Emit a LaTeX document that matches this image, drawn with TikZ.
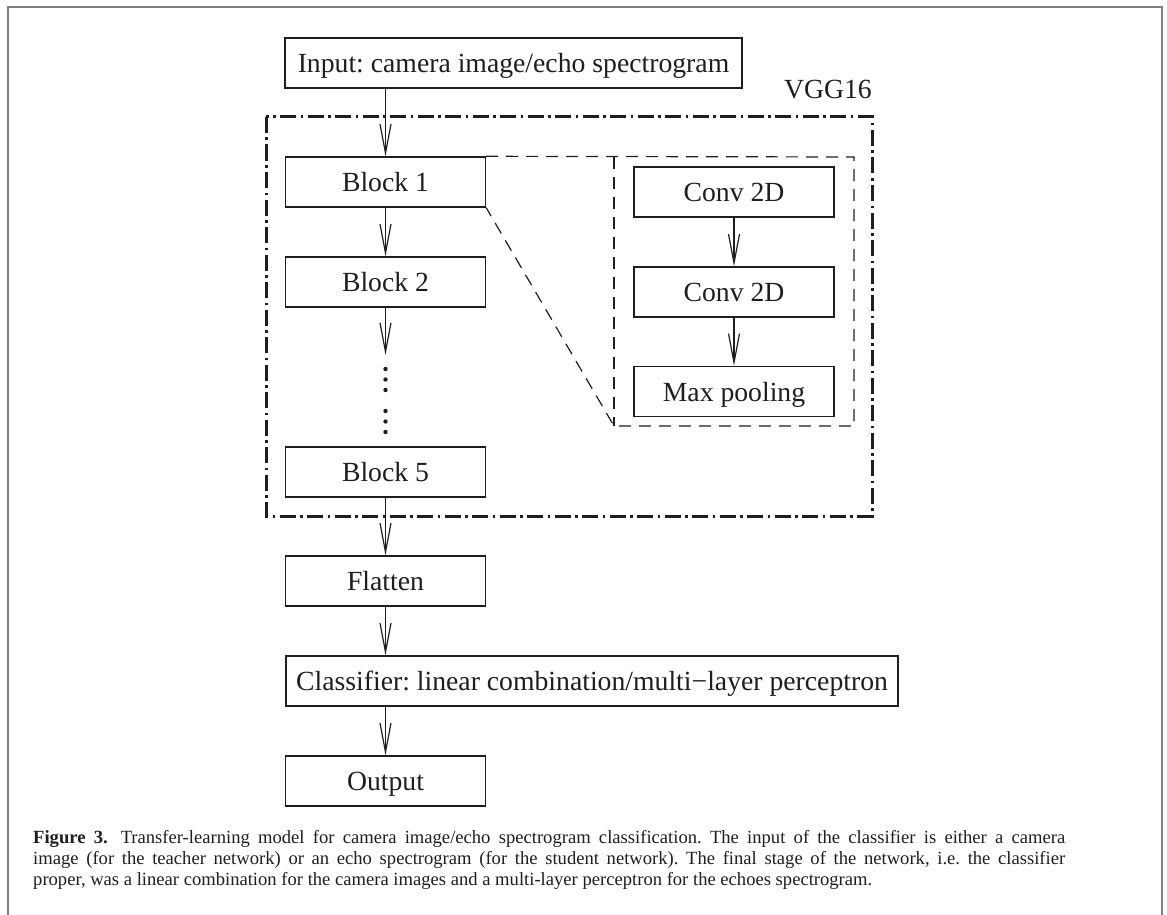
\documentclass[tikz,border=0pt]{standalone}
\usepackage{fontspec}
\setmainfont{Liberation Serif}
\usetikzlibrary{arrows.meta}
\definecolor{framegray}{RGB}{128,128,128}
\definecolor{ink}{RGB}{30,30,30}
\frenchspacing
\begin{document}
\begin{tikzpicture}[x=1pt,y=-1pt,
  box/.style={draw=ink, line width=1.4pt, minimum height=50pt, minimum width=200pt, inner sep=0pt,
    font=\fontsize{27.7}{30}\selectfont, text=ink, text height=19pt, text depth=0pt},
  ar/.style={draw=ink, line width=1.2pt, -{Straight Barb[length=29pt,width=11pt]}},
  vggframe/.style={draw=ink, line width=3pt, dash pattern=on 16pt off 4.5pt on 2.5pt off 4.5pt},
  zoomline/.style={draw=ink, line width=1.2pt, dash pattern=on 12pt off 8pt},
  capline/.style={anchor=base west, inner sep=0pt, font=\fontsize{18.6}{21}\selectfont, text=ink},
  dotmark/.style={fill=ink}]
\useasboundingbox (0,0) rectangle (1167,915);
% outer figure frame
\draw[framegray, line width=2pt] (8,915) -- (8,7) -- (1162,7) -- (1162,915);

% main column
\node[box, minimum width=457pt] (in) at (513.5,63) {Input: camera image/echo spectrogram};
\node[box] (b1) at (385.5,182) {Block 1};
\node[box] (b2) at (385.5,282) {Block 2};
\node[box] (b5) at (385.5,472) {Block 5};
\node[box] (fl) at (385.5,581) {Flatten};
\node[box, minimum width=612pt] (cl) at (592,681) {Classifier: linear combination/multi−layer perceptron};
\node[box] (out) at (385.5,781) {Output};

% inner block detail
\node[box] (c1) at (734,192) {Conv 2D};
\node[box] (c2) at (734,292) {Conv 2D};
\node[box] (mp) at (734,391.5) {Max pooling};

% VGG16 frame
\coordinate (vtl) at (266,117);
\coordinate (vbr) at (872,516);
\draw[vggframe] (vtl) rectangle (vbr);
\node[anchor=base east, inner sep=0pt, font=\fontsize{27.7}{30}\selectfont, text=ink] (vgg) at (872,99) {VGG16};

% zoom callout
\coordinate (ztr) at (854,157);
\coordinate (zbr) at (854,426);
\coordinate (zbl) at (614,426);
\coordinate (ztl) at (614,157);
\draw[zoomline] (b1.north east) -- (ztr) -- (zbr) -- (zbl) -- (b1.south east);
\draw[zoomline] (ztl) -- (zbl);

% arrows
\draw[ar] (in.south -| b1.north) -- (b1.north);
\draw[ar] (b1.south) -- (b2.north);
\coordinate (dend) at (385.5,355);
\draw[ar] (b2.south) -- (dend);
\foreach \yy in {369,379.5,390,411,421.5,432}
  \fill[dotmark] (385.5,\yy) circle (2.2pt);
\draw[ar] (b5.south) -- (fl.north);
\draw[ar] (fl.south) -- (fl.south |- cl.north);
\draw[ar] (out.north |- cl.south) -- (out.north);
\draw[ar] (c1.south) -- (c2.north);
\draw[ar] (c2.south) -- (mp.north);

% caption
\node[capline] (cap1) at (33,843) {\makebox[1032pt][s]{\textbf{Figure 3.}\hspace{0.7em}Transfer-learning model for camera image/echo spectrogram classification. The input of the classifier is either a camera}};
\node[capline] (cap2) at (33,864) {\makebox[1032pt][s]{image (for the teacher network) or an echo spectrogram (for the student network). The final stage of the network, i.e. the classifier}};
\node[capline] (cap3) at (33,885) {proper, was a linear combination for the camera images and a multi-layer perceptron for the echoes spectrogram.};
\end{tikzpicture}
\end{document}
